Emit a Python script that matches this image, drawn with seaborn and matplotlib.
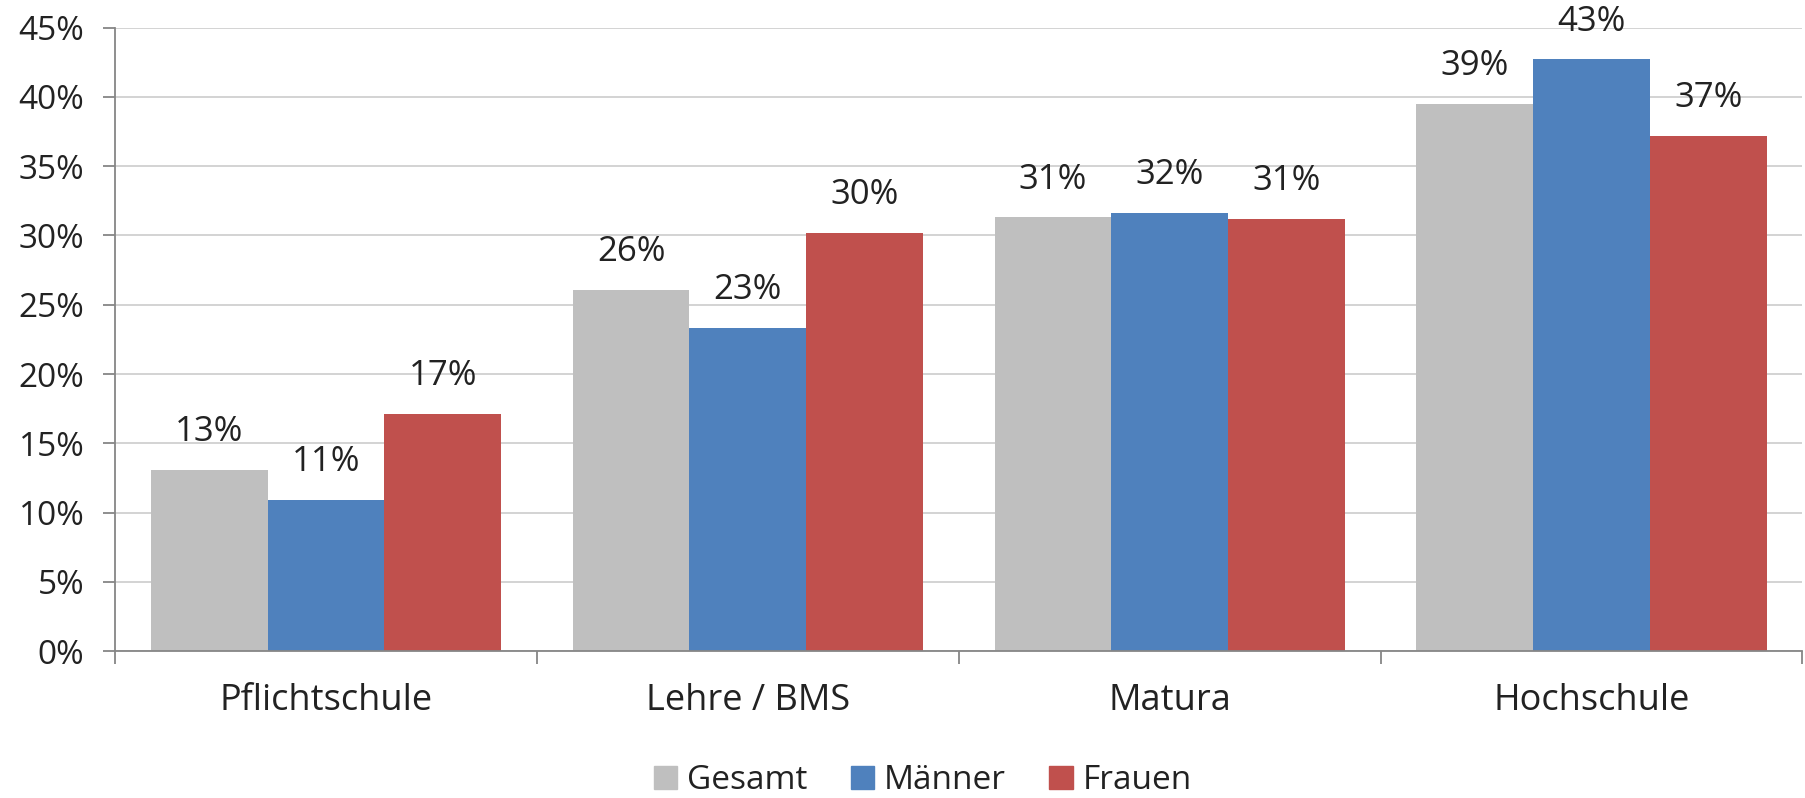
import numpy as np
import pandas as pd
import matplotlib.pyplot as plt
import seaborn as sns
from matplotlib.ticker import FixedLocator, PercentFormatter

categories = ['Pflichtschule', 'Lehre / BMS', 'Matura', 'Hochschule']
series = ['Gesamt', 'Männer', 'Frauen']
gesamt = [13.1, 26.1, 31.3, 39.5]
maenner = [10.9, 23.3, 31.6, 42.7]
frauen = [17.1, 30.2, 31.2, 37.2]
labels_gesamt = ['13%', '26%', '31%', '39%']
labels_maenner = ['11%', '23%', '32%', '43%']
labels_frauen = ['17%', '30%', '31%', '37%']
colors = ['#BFBFBF', '#4F81BD', '#C0504D']

df = pd.DataFrame({
    'Kategorie': categories * 3,
    'Gruppe': [s for s in series for _ in categories],
    'Wert': gesamt + maenner + frauen,
})

sns.set_style('white')
plt.rcParams['font.family'] = ['Open Sans', 'DejaVu Sans']

fig = plt.figure(figsize=(18.06, 7.98), dpi=100)
ax = fig.add_axes([0.0637, 0.184, 0.9343, 0.7814])

sns.barplot(data=df, x='Kategorie', y='Wert', hue='Gruppe', order=categories,
            hue_order=series, palette=colors, width=0.83, linewidth=0,
            saturation=1, ax=ax, legend=True)

ax.set_ylim(0, 45)
ax.set_xlim(-0.5, 3.5)
ax.set_yticks(np.arange(0, 46, 5))
ax.yaxis.set_major_formatter(PercentFormatter(decimals=0))
ax.grid(axis='y', color='#D0D0D0', linewidth=1.3)
ax.set_axisbelow(True)
ax.set_xlabel('')
ax.set_ylabel('')

for s in ['top', 'right']:
    ax.spines[s].set_visible(False)
for s in ['left', 'bottom']:
    ax.spines[s].set_color('#868686')
    ax.spines[s].set_linewidth(1.3)

ax.tick_params(axis='y', direction='out', length=9, width=1.3, color='#868686',
               labelsize=24, pad=13, left=True, labelcolor='#222222')
ax.tick_params(axis='x', which='major', length=0, labelsize=26, pad=23, labelcolor='#222222')
ax.xaxis.set_minor_locator(FixedLocator([-0.5, 0.5, 1.5, 2.5, 3.5]))
ax.tick_params(axis='x', which='minor', direction='out', length=9, width=1.3,
               color='#868686', bottom=True)

all_labels = [labels_gesamt, labels_maenner, labels_frauen]
for cont, labs in zip(ax.containers, all_labels):
    for bar, lab in zip(cont, labs):
        ax.annotate(lab, (bar.get_x() + bar.get_width() / 2, bar.get_height()),
                    xytext=(0, 15), textcoords='offset points', ha='center',
                    va='bottom', fontsize=25, color='#222222')

ax.get_legend().remove()
handles = [plt.Rectangle((0, 0), 1, 1, color=c) for c in colors]
fig.legend(handles, series, loc='center', bbox_to_anchor=(0.511, 0.022), ncol=3,
           frameon=False, fontsize=24, handlelength=0.7, handleheight=0.7,
           handletextpad=0.3, columnspacing=1.3, labelcolor='#222222')

fig.savefig('out.png', dpi=100)
